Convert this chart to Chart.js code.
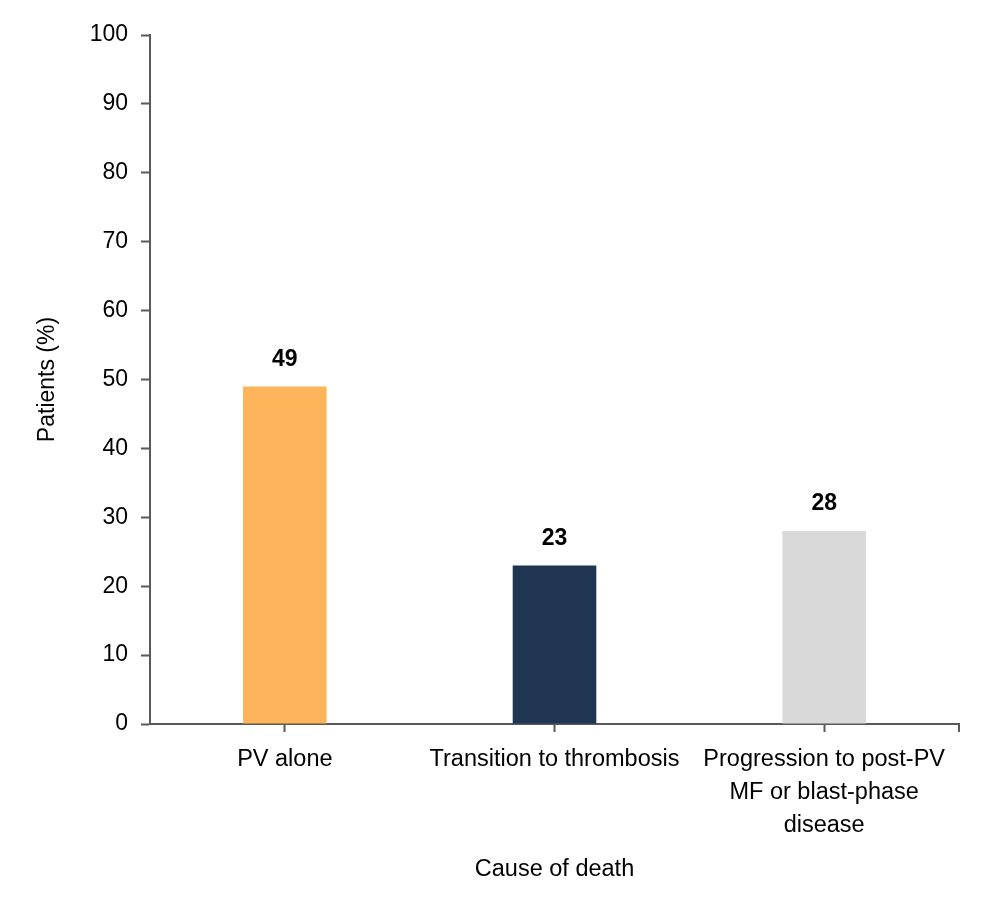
<!DOCTYPE html>
<html>
<head>
<meta charset="utf-8">
<script src="https://cdn.jsdelivr.net/npm/chart.js@4"></script>
<style>
  html, body { margin: 0; padding: 0; background: #fff; }
  #wrap { width: 1000px; height: 911px; position: relative; }
</style>
</head>
<body>
<div id="wrap"><canvas id="causes_plot"></canvas></div>
<script>
// data
const CATEGORIES = [
    "PV alone",
    "Transition to thrombosis",
    ["Progression to post-PV", "MF or blast-phase", "disease"]
];
const PATIENT_PCT = [49, 23, 28];
const BAR_COLORS = ["#FDB45A", "#1F3552", "#D9D9D9"];
const Y_TICKS = [0, 10, 20, 30, 40, 50, 60, 70, 80, 90, 100];

const AXIS_COLOR = "#595959";
const FONT = "'Liberation Sans', Arial, sans-serif";

// draws the value above each bar
const barValueLabels = {
    id: 'barValueLabels',
    afterDatasetsDraw(chart) {
        const ctx = chart.ctx;
        const meta = chart.getDatasetMeta(0);
        ctx.save();
        ctx.font = "bold 23px " + FONT;
        ctx.fillStyle = "#000";
        ctx.textAlign = "center";
        ctx.textBaseline = "middle";
        meta.data.forEach((bar, i) => {
            ctx.fillText(PATIENT_PCT[i], bar.x, bar.y - 27);
        });
        ctx.restore();
    }
};

// small tick at the right end of the x axis (as in the original)
const axisEndTick = {
    id: 'axisEndTick',
    afterDraw(chart) {
        const ctx = chart.ctx;
        const area = chart.chartArea;
        ctx.save();
        ctx.strokeStyle = AXIS_COLOR;
        ctx.lineWidth = 2;
        ctx.beginPath();
        ctx.moveTo(area.right, area.bottom);
        ctx.lineTo(area.right, area.bottom + 8);
        ctx.stroke();
        ctx.restore();
    }
};

function plotCauses() {
    let ctx = document.getElementById('causes_plot');
    window.causes_plot = new Chart(ctx, {
        type: 'bar',
        data: {
            labels: CATEGORIES,
            datasets: [{
                data: PATIENT_PCT,
                backgroundColor: BAR_COLORS,
                borderWidth: 0,
                categoryPercentage: 1.0,
                barPercentage: 0.31,
            }]
        },
        options: {
            responsive: true,
            maintainAspectRatio: false,
            animation: false,
            layout: {
                padding: { left: 0, top: 35, right: 41, bottom: 22 }
            },
            plugins: {
                legend: { display: false },
                tooltip: { enabled: false },
            },
            scales: {
                x: {
                    grid: {
                        offset: false,
                        drawOnChartArea: false,
                        drawTicks: true,
                        tickLength: 8,
                        tickWidth: 2,
                        tickColor: AXIS_COLOR,
                    },
                    border: { color: AXIS_COLOR, width: 2 },
                    ticks: {
                        color: "#000",
                        maxRotation: 0,
                        autoSkip: false,
                        padding: 11,
                        font: { family: FONT, size: 23.5, lineHeight: 1.4 },
                    },
                    title: {
                        display: true,
                        text: 'Cause of death',
                        color: "#000",
                        padding: { top: 12, bottom: 5 },
                        font: { family: FONT, size: 23.5 },
                    },
                    afterFit: function (scale) { scale.height = 187 - 22; }
                },
                y: {
                    min: 0,
                    max: 100,
                    afterBuildTicks: function (scale) {
                        scale.ticks = Y_TICKS.map(v => ({ value: v }));
                    },
                    grid: {
                        drawOnChartArea: false,
                        drawTicks: true,
                        tickLength: 9,
                        tickWidth: 2,
                        tickColor: AXIS_COLOR,
                    },
                    border: { color: AXIS_COLOR, width: 2 },
                    ticks: {
                        color: "#000",
                        padding: 13,
                        font: { family: FONT, size: 23 },
                    },
                    title: {
                        display: true,
                        text: 'Patients (%)',
                        color: "#000",
                        padding: { top: 34, bottom: 0 },
                        font: { family: FONT, size: 23 },
                    },
                    afterFit: function (scale) { scale.width = 150; }
                }
            }
        },
        plugins: [barValueLabels, axisEndTick]
    });
}

plotCauses();
</script>
</body>
</html>
